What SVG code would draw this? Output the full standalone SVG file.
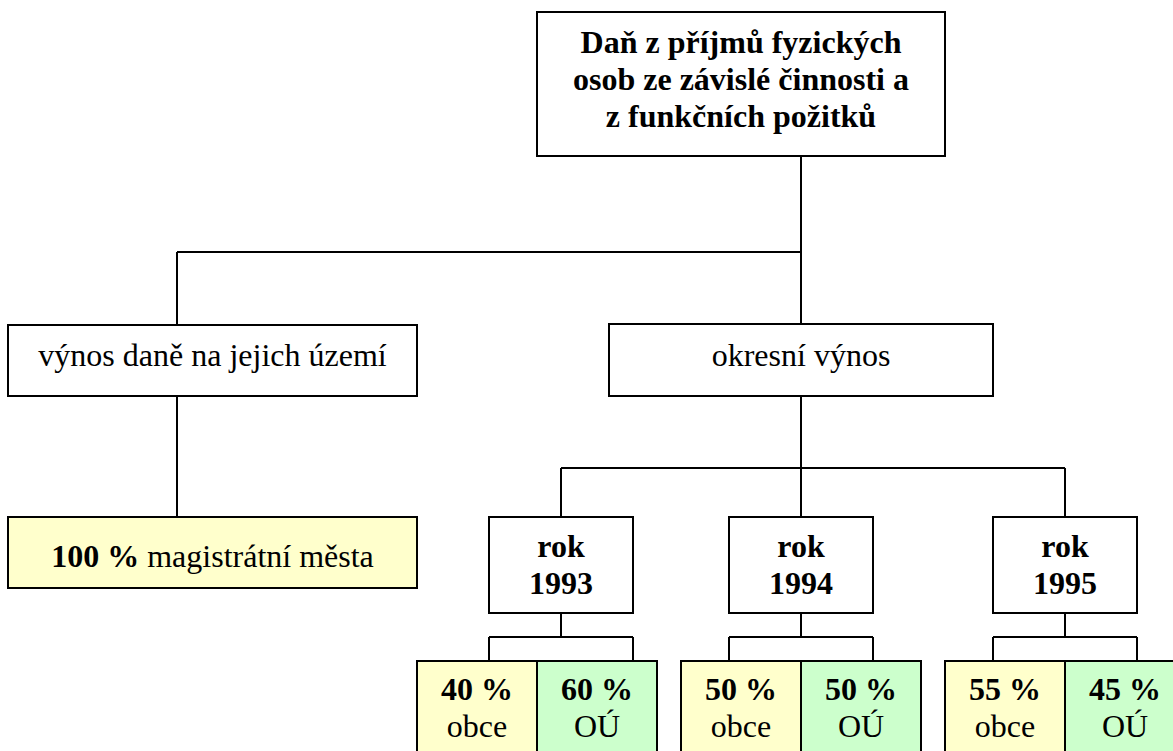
<svg xmlns="http://www.w3.org/2000/svg" width="1173" height="751" viewBox="0 0 1173 751">
<style>
.box{fill:#ffffff;stroke:#000;stroke-width:2}
.yel{fill:#ffffcc;stroke:#000;stroke-width:2}
.grn{fill:#ccffcc;stroke:#000;stroke-width:2}
.t{font-family:'Liberation Serif','Tinos','DejaVu Serif',serif;font-size:32px;fill:#000;text-anchor:middle}
.b{font-weight:bold}
.conn{stroke:#000;stroke-width:2;fill:none}
</style>
<rect width="1173" height="751" fill="#ffffff"/>
<g id="connectors">
<path class="conn" d="M801,156 V324 M177,252 H801 M177,252 V325"/>
<path class="conn" d="M177,396 V517"/>
<path class="conn" d="M801,396 V468 M561,468 H1065 M561,468 V517 M801,468 V517 M1065,468 V517"/>
<path class="conn" d="M561,613 V637 M489,637 H633 M489,637 V661 M633,637 V661"/>
<path class="conn" d="M801,613 V637 M729,637 H873 M729,637 V661 M873,637 V661"/>
<path class="conn" d="M1065,613 V637 M993,637 H1137 M993,637 V661 M1137,637 V661"/>
</g>
<g id="top">
<rect class="box" x="537" y="12" width="408" height="144"/>
<text class="t b" x="741" y="53" font-family="Liberation Serif, serif">Daň z příjmů fyzických</text>
<text class="t b" x="741" y="90" font-family="Liberation Serif, serif">osob ze závislé činnosti a</text>
<text class="t b" x="741" y="127" font-family="Liberation Serif, serif">z funkčních požitků</text>
</g>
<g id="vynos">
<rect class="box" x="8" y="325" width="409" height="71"/>
<text class="t" x="212.5" y="366" font-family="Liberation Serif, serif">výnos daně na jejich území</text>
</g>
<g id="okresni">
<rect class="box" x="609" y="324" width="384" height="72"/>
<text class="t" x="801" y="366" font-family="Liberation Serif, serif">okresní výnos</text>
</g>
<g id="magistrat">
<rect class="yel" x="8" y="517" width="409" height="71"/>
<text class="t" x="212.5" y="567" font-family="Liberation Serif, serif"><tspan class="b">100 %</tspan> magistrátní města</text>
</g>
<g id="rok1993">
<rect class="box" x="489" y="517" width="144" height="96"/>
<text class="t b" x="561" y="557" font-family="Liberation Serif, serif">rok</text>
<text class="t b" x="561" y="594" font-family="Liberation Serif, serif">1993</text>
</g>
<g id="rok1994">
<rect class="box" x="729" y="517" width="144" height="96"/>
<text class="t b" x="801" y="557" font-family="Liberation Serif, serif">rok</text>
<text class="t b" x="801" y="594" font-family="Liberation Serif, serif">1994</text>
</g>
<g id="rok1995">
<rect class="box" x="993" y="517" width="144" height="96"/>
<text class="t b" x="1065" y="557" font-family="Liberation Serif, serif">rok</text>
<text class="t b" x="1065" y="594" font-family="Liberation Serif, serif">1995</text>
</g>
<g id="obce1993">
<rect class="yel" x="417" y="661" width="120" height="100"/>
<text class="t b" x="477" y="700" font-family="Liberation Serif, serif">40 %</text>
<text class="t" x="477" y="737" font-family="Liberation Serif, serif">obce</text>
</g>
<g id="ou1993">
<rect class="grn" x="537" y="661" width="120" height="100"/>
<text class="t b" x="597" y="700" font-family="Liberation Serif, serif">60 %</text>
<text class="t" x="597" y="737" font-family="Liberation Serif, serif">OÚ</text>
</g>
<g id="obce1994">
<rect class="yel" x="681" y="661" width="120" height="100"/>
<text class="t b" x="741" y="700" font-family="Liberation Serif, serif">50 %</text>
<text class="t" x="741" y="737" font-family="Liberation Serif, serif">obce</text>
</g>
<g id="ou1994">
<rect class="grn" x="801" y="661" width="120" height="100"/>
<text class="t b" x="861" y="700" font-family="Liberation Serif, serif">50 %</text>
<text class="t" x="861" y="737" font-family="Liberation Serif, serif">OÚ</text>
</g>
<g id="obce1995">
<rect class="yel" x="945" y="661" width="120" height="100"/>
<text class="t b" x="1005" y="700" font-family="Liberation Serif, serif">55 %</text>
<text class="t" x="1005" y="737" font-family="Liberation Serif, serif">obce</text>
</g>
<g id="ou1995">
<rect class="grn" x="1065" y="661" width="120" height="100"/>
<text class="t b" x="1125" y="700" font-family="Liberation Serif, serif">45 %</text>
<text class="t" x="1125" y="737" font-family="Liberation Serif, serif">OÚ</text>
</g>
</svg>
